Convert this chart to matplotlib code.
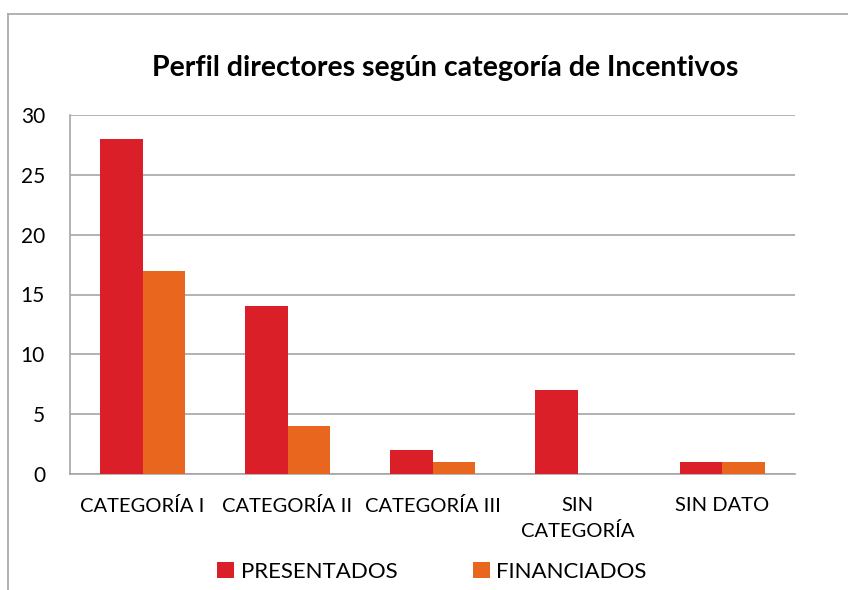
import matplotlib
matplotlib.use("Agg")
import matplotlib.pyplot as plt
import numpy as np
from matplotlib.lines import Line2D

categories = ["CATEGORÍA I", "CATEGORÍA II", "CATEGORÍA III", "SIN\nCATEGORÍA", "SIN DATO"]
presentados = [28, 14, 2, 7, 1]
financiados = [17, 4, 1, 0, 1]
series_names = ["PRESENTADOS", "FINANCIADOS"]
yticks = [0, 5, 10, 15, 20, 25, 30]

plt.rcParams['font.family'] = ['Lato', 'DejaVu Sans']

fig = plt.figure(figsize=(8.48, 5.90), dpi=100)
ax = fig.add_axes([70/848, 1-474/590, (795-70)/848, (474-115)/590])

x = np.arange(len(categories))
w = 0.29
red = "#DA1F28"
orange = "#E9661F"
ax.bar(x - w/2, presentados, w, color=red, label=series_names[0], zorder=3)
ax.bar(x + w/2, financiados, w, color=orange, label=series_names[1], zorder=3)

ax.set_xlim(-0.5, len(categories) - 0.5)
ax.set_ylim(0, 30)
ax.set_yticks(yticks)
ax.set_yticklabels([str(t) for t in yticks], fontsize=15)
ax.yaxis.grid(True, color="#A6A6A6", linewidth=1.2, zorder=0)
ax.set_axisbelow(True)
ax.set_xticks(x)
ax.set_xticklabels(categories, fontsize=14.5, linespacing=1.55)
ax.tick_params(axis='x', length=0, pad=16.5)
ax.tick_params(axis='y', length=0, pad=18)
for s in ["top", "right"]:
    ax.spines[s].set_visible(False)
ax.spines["left"].set_color("#A6A6A6")
ax.spines["left"].set_linewidth(1.2)
ax.spines["bottom"].set_color("#A6A6A6")
ax.spines["bottom"].set_linewidth(1.2)

fig.text(445/848, 1-68/590, "Perfil directores según categoría de Incentivos",
         ha="center", va="center", fontsize=20.5, fontweight="bold")

leg = fig.legend(loc="center", bbox_to_anchor=(432/848, 1-572/590), ncol=2,
                 frameon=False, fontsize=16, handlelength=0.75, handleheight=0.75,
                 columnspacing=3.4, handletextpad=0.3)

fig.add_artist(Line2D([8/848, 1], [1-14/590, 1-14/590], color="#A6A6A6", linewidth=1.2))
fig.add_artist(Line2D([8/848, 8/848], [0, 1-14/590], color="#A6A6A6", linewidth=1.2))

fig.savefig("out.png", dpi=100)
